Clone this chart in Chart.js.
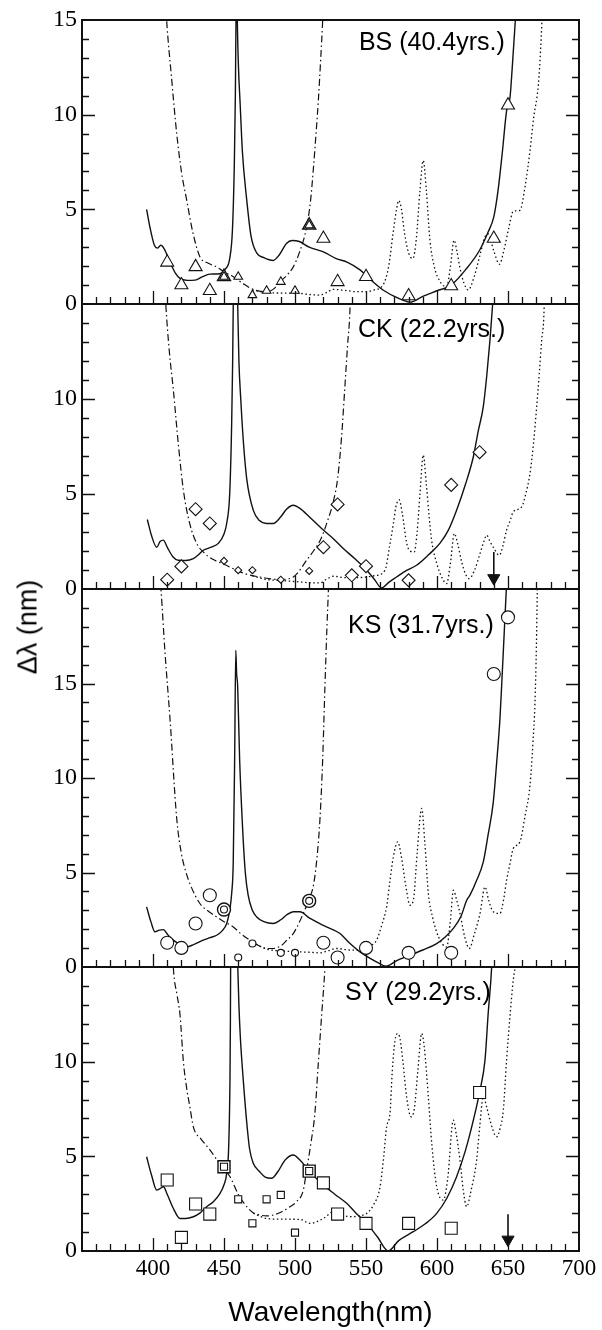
<!DOCTYPE html>
<html><head><meta charset="utf-8">
<script src="https://cdn.jsdelivr.net/npm/chart.js@4.4.0/dist/chart.umd.min.js"></script>
<style>
html,body{margin:0;padding:0;background:#fff;}
#wrap{position:relative;width:602px;height:1330px;overflow:hidden;background:#fff;}
canvas{position:absolute;left:0;}
#ytitle{position:absolute;left:28px;top:627px;transform:translate(-50%,-50%) rotate(-90deg);font:27px "Liberation Sans",Arial,sans-serif;color:#000;white-space:nowrap;}
</style></head><body>
<div id="wrap">
<canvas id="c1" width="602" height="324" style="top:0px"></canvas>
<canvas id="c2" width="602" height="325" style="top:284px"></canvas>
<canvas id="c3" width="602" height="418" style="top:569px"></canvas>
<canvas id="c4" width="602" height="383" style="top:947px"></canvas>
<div id="ytitle">Δλ (nm)</div>
</div>
<script>
// ---------- tick labels ----------
const xTickLabels = [400, 450, 500, 550, 600, 650, 700];
const yLabelsBS = [0, 5, 10, 15];
const yLabelsCK = [0, 5, 10];
const yLabelsKS = [0, 5, 10, 15];
const yLabelsSY = [0, 5, 10];
const panelNames = ['BS (40.4yrs.)', 'CK (22.2yrs.)', 'KS (31.7yrs.)', 'SY (29.2yrs.)'];

// ---------- BS ----------
const bsSolid = [[395.5,5.0],[398,4.0],[401,3.1],[403,2.95],[405.5,3.1],[408,2.9],[412,2.2],[416,1.6],[419,1.35],[424,1.25],[429.6,1.26],[435,1.45],[440,1.58],[447,1.6],[451,1.85],[454,2.4],[456,4.0],[457.3,7.5],[458,11],[458.5,15.5],[458.8,20],[459.3,15.5],[460.2,12.5],[461.3,10.7],[463,8],[466,5.5],[469,3.6],[473,2.7],[478,2.45],[484.7,2.3],[489,2.6],[494,3.2],[498,3.35],[503,3.3],[510,3.0],[520,2.75],[529,2.4],[537,2.2],[545.8,1.8],[553,1.3],[562,0.74],[570,0.4],[576,0.2],[581,0.1],[590,0.4],[600,0.7],[610,1.0],[620,1.8],[630,2.84],[636,3.8],[640,4.6],[643,6],[646,8],[649,10.2],[651.4,10.9],[653,12.5],[655.6,15.5]];
const bsDashDot = [[407.5,18],[409.6,15],[413,12],[416.7,9.0],[420,7.0],[423.7,5.5],[428,3.8],[433,2.5],[439,2.15],[444.8,1.96],[450,1.7],[456.5,1.44],[463,1.1],[470.6,0.77],[480,0.65],[485,0.8],[489.4,1.17],[494,1.5],[498.8,1.96],[503,2.7],[508.2,4.07],[511,5.5],[513,7.2],[515,9.2],[516.4,10.7],[518,12.8],[519.5,15],[520.5,17]];
const bsDotted = [[470,0.75],[480,0.6],[490,0.58],[503.5,0.56],[510,0.5],[517.6,0.47],[522,0.6],[527,0.77],[535,0.72],[543,0.65],[550.5,0.65],[556,0.75],[562,1.0],[566,2.0],[569,3.7],[571.5,5.0],[573,5.47],[575,5.0],[577,3.8],[580,2.7],[583,2.4],[585.5,3.5],[588,6.0],[590.3,7.58],[592.5,6.0],[595,3.4],[598,2.0],[602,1.2],[606.8,0.9],[609.5,2.0],[612,3.37],[614,2.8],[616,1.96],[619,1.1],[622,0.74],[626,1.4],[630,2.5],[633.5,3.5],[636,3.7],[640,2.8],[644,2.1],[647,2.8],[650.5,4.0],[653.7,4.9],[658.4,4.95],[662,6.2],[665.5,8.1],[668,9.8],[671.4,11.6],[673,13.5],[674.5,16]];
const bsBig = [[410,2.2],[420,1.0],[430,1.96],[440,0.7],[520,3.46],[530,1.17],[550,1.44],[580,0.42],[610,0.95],[640,3.46],[650,10.5]];
const bsDouble = [[450,1.44],[510,4.16]];
const bsSmall = [[460,1.44],[470,0.47],[480,0.7],[490,1.17],[500,0.7]];

// ---------- CK ----------
const ckSolid = [[396,3.66],[399,2.8],[402.6,2.2],[405,2.5],[407.3,2.57],[410,2.2],[414,1.7],[417.8,1.51],[423,1.5],[428.4,1.6],[432,1.8],[435.4,2.04],[441,2.2],[446,2.4],[450,2.9],[452,3.5],[454,5.0],[455.4,8.7],[456.1,12],[456.6,15.5],[457.8,20],[459.5,15.5],[460.5,12],[461.8,10],[463.6,7.8],[466,5.8],[470.6,4.15],[475,3.6],[480,3.45],[484.7,3.45],[490,3.8],[494,4.2],[498.8,4.41],[503.5,4.24],[510,3.8],[520,3.1],[527,2.65],[534,2.13],[542,1.6],[550.5,0.99],[556,0.5],[561,0.05],[566,0.35],[571.5,0.63],[578,0.95],[585.6,1.25],[594,1.8],[602,2.4],[608,3.1],[613.8,4.15],[620,5.5],[625.6,6.96],[629,8.3],[632.6,9.6],[635,11.2],[637.3,13.1],[639.2,15],[640,16]];
const ckDashDot = [[407,18],[409,15],[411.5,12.5],[414.3,10.5],[418,7.5],[421.4,5.2],[426,3.4],[430.8,2.4],[436,1.9],[442.5,1.55],[450,1.3],[456.5,1.07],[465,0.8],[475.3,0.63],[489.4,0.5],[494,0.52],[498.8,0.63],[503,0.95],[508,1.5],[513,2.0],[518,2.6],[523,3.6],[527,4.6],[530,5.8],[532.8,8.0],[535,10.5],[537,12.8],[538.7,14.7],[539.5,17]];
const ckDotted = [[470,0.7],[480,0.5],[490,0.45],[503.5,0.37],[510,0.33],[517.6,0.32],[522,0.5],[527,0.67],[535,0.6],[543,0.6],[550.5,0.63],[556,0.7],[563.4,0.99],[566.5,2.2],[569.3,3.45],[571,4.3],[573.3,4.7],[575.5,4.0],[578.7,2.4],[581,2.0],[584,1.95],[586,3.0],[588,5.0],[590.3,7.05],[592.5,5.5],[594.5,3.8],[596.2,2.57],[600,1.3],[603.5,0.6],[606.8,0.28],[609.5,1.4],[612.2,2.92],[614.8,2.3],[617.4,1.42],[620,0.8],[622.7,0.55],[626.5,1.0],[630.3,1.87],[633,2.5],[635,2.83],[637.3,2.5],[639.6,2.2],[643.9,1.78],[646.5,2.3],[649,3.1],[651.5,3.6],[653.7,4.06],[659.6,4.32],[662.5,5.0],[665.5,6.08],[668,7.7],[670.2,9.6],[672,11.3],[673.7,13.1],[675.4,14.7],[676,17]];
const ckBig = [[410,0.49],[420,1.19],[430,4.2],[440,3.45],[520,2.2],[530,4.45],[540,0.72],[550,1.2],[580,0.46],[610,5.48],[630,7.2]];
const ckSmall = [[450,1.48],[460,0.99],[470,0.99],[490,0.49],[510,0.95]];
const ckArrow = [[640,1.95],[640,0.57]];

// ---------- KS ----------
const ksSolid = [[395.5,3.18],[398.5,2.4],[401.4,1.86],[404.5,1.95],[407.3,1.98],[410.5,1.7],[414.3,1.42],[419,1.2],[423.7,1.06],[429,1.2],[435.4,1.42],[440,1.55],[444.8,1.68],[448.5,1.9],[451.9,2.3],[454,3.0],[455.4,3.89],[456.5,5.5],[457.5,11],[458.3,16.76],[458.9,15.5],[459.6,14.9],[461,11],[463,7.5],[465,5.0],[467,3.8],[470,3.0],[473,2.65],[478,2.4],[484.7,2.3],[490,2.5],[494,2.75],[498.8,2.92],[503.5,2.92],[510,2.6],[520,2.2],[531.7,1.77],[538,1.3],[545.8,0.8],[552,0.5],[558,0.25],[564,0.04],[572,0.35],[581,0.62],[590,0.9],[599.8,1.24],[606,1.6],[611.5,2.04],[617,2.7],[620.9,3.53],[623.2,3.8],[628,4.6],[632.6,5.56],[636,7.0],[639.6,8.7],[642,10.8],[644.3,13.1],[645.6,15.0],[646.7,16.7],[648.5,19.5],[649.5,21]];
const ksDashDot = [[404.5,21],[405.6,20],[408.4,16.7],[412,13.1],[416.7,7.86],[420,6.0],[423.7,4.9],[426,4.4],[433,3.36],[439,2.95],[444.8,2.65],[450,2.4],[456.5,2.12],[462,1.75],[468.3,1.42],[474,1.15],[480,0.98],[485,0.98],[490.6,1.15],[494,1.4],[498.8,1.77],[502,2.2],[505.8,2.83],[510,3.6],[513,4.33],[515.5,5.8],[517.6,7.86],[519.5,11],[521.1,14.9],[522.5,18],[523.4,19.7],[524,21]];
const ksDotted = [[470,1.3],[480,0.95],[490,0.85],[503.5,0.8],[510,0.78],[517.6,0.75],[523,0.85],[529.3,0.98],[538,0.9],[545.8,0.89],[552,1.1],[557.5,1.42],[561,2.2],[564.5,3.18],[566.9,4.59],[569.2,5.8],[572.3,6.62],[575,5.8],[578,4.3],[581,3.27],[583.5,3.6],[586,6.0],[589.2,8.39],[591.5,6.5],[593.9,3.89],[597,2.6],[601,1.6],[606.8,1.06],[609.5,2.5],[611.5,4.06],[614,3.5],[616.2,2.83],[619.5,1.6],[622.7,0.98],[626.5,1.8],[630.3,2.83],[633.8,4.24],[636.5,3.5],[639.6,2.92],[644.3,2.83],[647,3.6],[649,4.59],[651.5,5.5],[653.7,6.27],[658.4,6.62],[662,8.0],[665.5,9.62],[667.5,11.8],[669,14],[670,17],[670.6,19.7],[671,21]];
const ksBig = [[410,1.28],[420,1.01],[430,2.3],[440,3.8],[520,1.28],[530,0.5],[550,1.01],[580,0.75],[610,0.75],[640,15.5],[650,18.5]];
const ksDouble = [[450,3.04],[510,3.5]];
const ksSmall = [[460,0.5],[470,1.24],[490,0.75],[500,0.75]];

// ---------- SY ----------
const sySolid = [[395.5,4.98],[399,4.0],[402.6,3.22],[405,3.3],[407.3,3.39],[410,3.0],[414,2.3],[419,1.72],[423,1.72],[428.4,1.81],[433,2.0],[437.8,2.34],[442.5,2.6],[447.2,3.04],[450,3.5],[451.9,4.1],[453.3,5.5],[454.2,9.0],[454.5,12],[454.7,15.5],[456.5,20],[459.5,15.5],[460.5,13],[461.5,11.3],[463.6,9.0],[466,6.8],[468,5.4],[470.6,4.63],[475,4.2],[479,3.9],[483.5,3.84],[488,4.2],[493,4.8],[498.8,5.07],[503.5,4.8],[510,4.22],[520,3.48],[528,3.0],[536.4,2.52],[543,2.0],[550.5,1.46],[558,0.75],[565.7,0.0],[573,0.55],[583.3,1.02],[592,1.45],[599.8,1.99],[607,2.8],[613.8,3.92],[620,5.3],[625.6,6.91],[630.3,8.5],[633.8,10.08],[636,12.5],[638.5,15],[639.3,16.5]];
const syDashDot = [[413.5,16.5],[414.3,15],[417,13.5],[419,12.5],[421.4,10.0],[423.7,8.6],[426,7.6],[428.4,6.56],[434,5.9],[440.2,5.33],[447,4.6],[454.2,3.92],[460,3.0],[466,2.34],[470,2.05],[475.3,1.9],[480,1.85],[484.7,1.9],[490,2.05],[496.5,2.34],[501,2.6],[505.8,3.2],[508.2,4.27],[511,5.6],[514,7.27],[516.4,9.9],[518.8,12.5],[521.1,15],[522,16.5]];
const syDotted = [[470.6,1.99],[480,1.72],[490,1.68],[503.5,1.67],[510.6,1.46],[520,1.72],[527,2.07],[532,1.95],[538.7,1.81],[545,1.85],[550.5,1.99],[555,2.4],[559.9,3.39],[562.5,5.0],[564.5,6.56],[566.9,7.27],[568.5,9.5],[570.4,11.1],[572.3,11.49],[574,11.2],[576,10.0],[578.6,8.14],[581.7,7.09],[584,7.5],[586.5,9.5],[589.2,11.49],[591,10.8],[593.9,8.14],[596.5,5.5],[599.8,3.39],[604.4,2.69],[607.5,3.8],[611.5,6.91],[613.5,6.2],[616.2,4.8],[618.5,3.2],[620.9,2.34],[624,3.2],[627.9,4.8],[630,6.5],[632.6,8.14],[635,7.6],[637.3,6.91],[642,6.03],[644.5,6.5],[646.7,7.44],[649,10.08],[651.5,12.5],[653.7,14.3],[655,15],[657.2,16.5]];
const syBig = [[410,3.75],[420,0.72],[430,2.48],[440,1.95],[520,3.6],[530,1.95],[550,1.46],[580,1.46],[610,1.2],[630,8.37]];
const syDouble = [[450,4.45],[510,4.22]];
const sySmall = [[460,2.73],[470,1.46],[480,2.73],[490,2.96],[500,0.97]];
const syArrow = [[650,1.94],[650,0.6]];

// ---------- drawing ----------
const INK = '#111';
const pts = a => a.map(p => ({x: p[0], y: p[1]}));

function markerDs(a, style, r, bw) {
  return {data: pts(a), showLine: false, pointStyle: style, pointRadius: r, pointHoverRadius: r,
    pointBorderWidth: bw || 1.1, pointBorderColor: INK, pointBackgroundColor: '#fff'};
}
function lineDs(a, dash, w) {
  return {data: pts(a), showLine: true, pointRadius: 0, pointHoverRadius: 0, borderColor: INK,
    borderWidth: w, borderDash: dash, cubicInterpolationMode: 'monotone', fill: false};
}

const panels = [
  {id: 'c1', ymax: 15, yLabels: yLabelsBS, xh: 20, showX: false, name: panelNames[0], lx: 545, ly: 13.8,
   style: 'triangle', rL: 7.5, rS: 5, rIn: 5, solid: bsSolid, dash: bsDashDot, dot: bsDotted, big: bsBig, small: bsSmall, dbl: bsDouble},
  {id: 'c2', ymax: 15, yLabels: yLabelsCK, xh: 20, showX: false, name: panelNames[1], lx: 544.4, ly: 13.6,
   style: 'rectRot', rL: 6.5, rS: 3.5, solid: ckSolid, dash: ckDashDot, dot: ckDotted, big: ckBig, small: ckSmall, arrow: ckArrow},
  {id: 'c3', ymax: 20, yLabels: yLabelsKS, xh: 20, showX: false, name: panelNames[2], lx: 537.3, ly: 18.05,
   style: 'circle', rL: 6.5, rS: 3.5, rIn: 3.5, solid: ksSolid, dash: ksDashDot, dot: ksDotted, big: ksBig, small: ksSmall, dbl: ksDouble},
  {id: 'c4', ymax: 15, yLabels: yLabelsSY, xh: 79, showX: true, name: panelNames[3], lx: 535.2, ly: 13.6,
   style: 'rect', rL: 8.5, rS: 5, rIn: 5, solid: sySolid, dash: syDashDot, dot: syDotted, big: syBig, small: sySmall, dbl: syDouble, arrow: syArrow}
];

function frameTicks(p) {
  return {
    id: 'frameTicks',
    afterDatasetsDraw(chart) {
      const {ctx, chartArea: a, scales: {x, y}} = chart;
      ctx.save();
      ctx.strokeStyle = INK;
      ctx.lineWidth = 1.3;
      ctx.beginPath();
      for (let v = 360; v < 700; v += 10) {
        const px = Math.round(x.getPixelForValue(v)) + 0.5;
        const len = v % 50 === 0 ? 13 : 7;
        ctx.moveTo(px, a.bottom); ctx.lineTo(px, a.bottom - len);
      }
      for (let v = 1; v < p.ymax; v += 1) {
        const py = Math.round(y.getPixelForValue(v)) + 0.5;
        const len = v % 5 === 0 ? 13 : 7;
        ctx.moveTo(a.left, py); ctx.lineTo(a.left + len, py);
        ctx.moveTo(a.right, py); ctx.lineTo(a.right - len, py);
      }
      ctx.stroke();
      ctx.lineWidth = 2;
      ctx.strokeRect(a.left, a.top, a.right - a.left, a.bottom - a.top);
      ctx.fillStyle = '#000';
      ctx.font = '25px "Liberation Sans", Arial, sans-serif';
      ctx.textAlign = 'left';
      ctx.textBaseline = 'middle';
      ctx.fillText(p.name, x.getPixelForValue(p.lx), y.getPixelForValue(p.ly));
      ctx.restore();
    }
  };
}

panels.forEach(p => {
  const ds = [];
  if (p.dbl) {
    ds.push(markerDs(p.dbl, p.style, p.rIn, 1.1));
    ds.push(markerDs(p.dbl, p.style, p.rL, 1.4));
  }
  ds.push(markerDs(p.big, p.style, p.rL));
  ds.push(markerDs(p.small, p.style, p.rS));
  if (p.arrow) {
    ds.push({data: pts(p.arrow), showLine: true, borderColor: INK, borderWidth: 1.6,
      pointRadius: [0, 7], pointHoverRadius: [0, 7], pointStyle: 'triangle', pointRotation: 180,
      pointBackgroundColor: INK, pointBorderColor: INK, pointBorderWidth: 1});
  }
  ds.push(lineDs(p.solid, [], 1.4));
  ds.push(lineDs(p.dash, [7, 3, 1.5, 3], 1.2));
  ds.push(lineDs(p.dot, [1.5, 2.6], 1.3));

  new Chart(document.getElementById(p.id), {
    type: 'scatter',
    data: {datasets: ds},
    options: {
      responsive: false, animation: false, events: [],
      layout: {padding: {top: 20, right: 23, left: 0, bottom: 0}},
      plugins: {legend: {display: false}, tooltip: {enabled: false}},
      scales: {
        x: {type: 'linear', min: 350, max: 700,
          grid: {display: false, drawTicks: false}, border: {display: false},
          ticks: {display: p.showX, stepSize: 50, padding: 4, autoSkip: false, maxRotation: 0, color: '#000',
            font: {family: '"Liberation Serif", serif', size: 23},
            callback: v => xTickLabels.includes(v) ? String(v) : ''},
          title: {display: p.showX, text: 'Wavelength(nm)', color: '#000', padding: 0,
            font: {family: '"Liberation Sans", Arial, sans-serif', size: 28}},
          afterFit: s => { s.height = p.xh; }},
        y: {type: 'linear', min: 0, max: p.ymax,
          grid: {display: false, drawTicks: false}, border: {display: false},
          ticks: {stepSize: 5, padding: 5, autoSkip: false, color: '#000',
            font: {family: '"Liberation Serif", serif', size: 24},
            callback: v => p.yLabels.includes(v) ? String(v) : ''},
          afterFit: s => { s.width = 82; }}
      }
    },
    plugins: [frameTicks(p)]
  });
});
</script>
</body></html>
